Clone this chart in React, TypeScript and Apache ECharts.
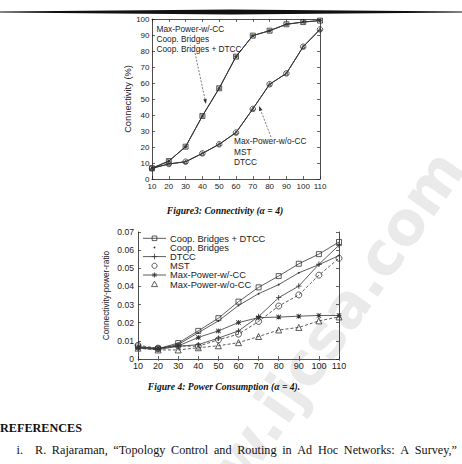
import React, { useEffect, useRef } from "react";
import * as echarts from "echarts";

// ---------- data ----------
const nodeCounts = [10, 20, 30, 40, 50, 60, 70, 80, 90, 100, 110];

// Figure 3: Connectivity (%)
const connWithCC = [6.7, 11.2, 20.2, 39.4, 56.7, 76.5, 89.6, 92.7, 96.7, 98.1, 99.0];
const connWithoutCC = [6.7, 9.4, 10.8, 16.0, 21.7, 29.0, 43.8, 59.2, 66.0, 82.7, 93.5];

// Figure 4: Connectivity-power-ratio
const ratioCoopDTCC = [0.0069, 0.0057, 0.0088, 0.0155, 0.0225, 0.0316, 0.0395, 0.0457, 0.0525, 0.0578, 0.0645];
const ratioCoop = [0.0065, 0.0055, 0.0080, 0.0145, 0.0210, 0.0295, 0.0360, 0.0410, 0.0475, 0.0520, 0.0570];
const ratioDTCC = [0.0060, 0.0052, 0.0070, 0.0079, 0.0115, 0.0155, 0.0234, 0.0338, 0.0402, 0.0522, 0.0627];
const ratioMST = [0.0075, 0.0060, 0.0072, 0.0070, 0.0106, 0.0137, 0.0207, 0.0292, 0.0353, 0.0462, 0.0555];
const ratioMaxWithCC = [0.0062, 0.0060, 0.0072, 0.0119, 0.0155, 0.0201, 0.0228, 0.0231, 0.0236, 0.0240, 0.0240];
const ratioMaxWithoutCC = [0.0060, 0.0050, 0.0050, 0.0062, 0.0073, 0.0090, 0.0124, 0.0160, 0.0174, 0.0210, 0.0232];

const legendNames = [
  "Coop. Bridges + DTCC",
  "Coop. Bridges",
  "DTCC",
  "MST",
  "Max-Power-w/-CC",
  "Max-Power-w/o-CC",
];

const annotationWithCC = ["Max-Power-w/-CC", "Coop. Bridges", "Coop. Bridges + DTCC"];
const annotationWithoutCC = ["Max-Power-w/o-CC", "MST", "DTCC"];

const referenceWords = [
  "R.",
  "Rajaraman,",
  "\u201CTopology",
  "Control",
  "and",
  "Routing",
  "in",
  "Ad",
  "Hoc",
  "Networks:",
  "A",
  "Survey,\u201D",
];

// ---------- styles ----------
const SANS = "'Liberation Sans', Arial, sans-serif";
const SERIF = "'Liberation Serif', 'Times New Roman', serif";
const INK = "#222";
const LINE = "#333";

const PLUS = "path://M4.2,0H5.8V10H4.2Z M0,4.2H10V5.8H0Z";
const STAR =
  "path://M4.2,0H5.8V10H4.2Z M0,4.2H10V5.8H0Z M1.1,0L10,8.9L8.9,10L0,1.1Z M8.9,0L10,1.1L1.1,10L0,8.9Z";

const pairs = (arr: number[]) => nodeCounts.map((x, i) => [x, arr[i]]);

function arrow(x1: number, y1: number, x2: number, y2: number) {
  const dx = x2 - x1;
  const dy = y2 - y1;
  const len = Math.sqrt(dx * dx + dy * dy);
  const ux = dx / len;
  const uy = dy / len;
  const bx = x2 - ux * 5;
  const by = y2 - uy * 5;
  const px = -uy * 1.8;
  const py = ux * 1.8;
  return [
    {
      type: "line",
      shape: { x1, y1, x2: bx, y2: by },
      style: { stroke: "#444", lineWidth: 0.7, lineDash: [2, 1.5] },
    },
    {
      type: "polygon",
      shape: { points: [[x2, y2], [bx + px, by + py], [bx - px, by - py]] },
      style: { fill: "#333" },
    },
  ];
}

function textEl(text: string, x: number, y: number, opts: any = {}) {
  const align = opts.align || "left";
  return {
    type: "text",
    x,
    y,
    rotation: opts.rotation || 0,
    z: opts.z ?? 10,
    style: {
      text,
      fill: opts.fill || INK,
      fontSize: opts.fontSize || 8.3,
      fontFamily: opts.fontFamily || SANS,
      fontWeight: opts.fontWeight || "normal",
      fontStyle: opts.fontStyle || "normal",
      align,
      textAlign: align,
      verticalAlign: "middle",
      textVerticalAlign: "middle",
    },
  };
}

function marker(kind: string, cx: number, cy: number): any[] {
  const stroke = { stroke: LINE, lineWidth: 0.8, fill: "none" };
  const seg = (x1: number, y1: number, x2: number, y2: number) => ({
    type: "line",
    z: 10,
    shape: { x1, y1, x2, y2 },
    style: { stroke: LINE, lineWidth: 0.8 },
  });
  switch (kind) {
    case "rect":
      return [{ type: "rect", z: 10, shape: { x: cx - 2.3, y: cy - 2.3, width: 4.6, height: 4.6 }, style: stroke }];
    case "dot":
      return [{ type: "circle", z: 10, shape: { cx, cy, r: 0.9 }, style: { fill: LINE } }];
    case "plus":
      return [seg(cx - 2.8, cy, cx + 2.8, cy), seg(cx, cy - 2.8, cx, cy + 2.8)];
    case "circle":
      return [{ type: "circle", z: 10, shape: { cx, cy, r: 2.6 }, style: stroke }];
    case "star":
      return [
        seg(cx - 2.6, cy, cx + 2.6, cy),
        seg(cx, cy - 2.6, cx, cy + 2.6),
        seg(cx - 1.9, cy - 1.9, cx + 1.9, cy + 1.9),
        seg(cx - 1.9, cy + 1.9, cx + 1.9, cy - 1.9),
      ];
    case "triangle":
      return [
        {
          type: "polygon",
          z: 10,
          shape: { points: [[cx, cy - 3], [cx + 3, cy + 2.4], [cx - 3, cy + 2.4]] },
          style: stroke,
        },
      ];
  }
  return [];
}

function valueAxisBase(gridIndex: number, min: number, max: number, interval: number) {
  return {
    type: "value",
    gridIndex,
    min,
    max,
    interval,
    splitLine: { show: false },
    axisLine: { show: true, onZero: false, lineStyle: { color: INK, width: 0.8 } },
    axisTick: { show: true, inside: true, length: 3, lineStyle: { color: INK, width: 0.7 } },
  };
}

function justifiedWords(words: string[], x0: number, x1: number, y: number, font: string, size: number) {
  const canvas = document.createElement("canvas");
  const ctx = canvas.getContext("2d");
  let widths = words.map((w) => w.length * size * 0.45);
  if (ctx) {
    ctx.font = `${size}px ${font}`;
    widths = words.map((w) => ctx.measureText(w).width);
  }
  const total = widths.reduce((a, b) => a + b, 0);
  const gap = (x1 - x0 - total) / (words.length - 1);
  const out: any[] = [];
  let x = x0;
  words.forEach((w, i) => {
    out.push(textEl(w, x, y, { fontSize: size, fontFamily: font, fill: "#111" }));
    x += widths[i] + gap;
  });
  return out;
}

export default function App() {
  const ref = useRef<HTMLDivElement>(null);

  useEffect(() => {
    if (!ref.current) return;
    const chart = echarts.init(ref.current, null, { renderer: "svg" });

    const tickLabel = (size: number, margin: number, show = true) => ({
      show,
      fontSize: size,
      fontFamily: SANS,
      color: INK,
      margin,
    });

    const xAxis = [
      { ...valueAxisBase(0, 10, 110, 10), position: "bottom", axisLabel: tickLabel(8, 3) },
      { ...valueAxisBase(0, 10, 110, 10), position: "top", axisLabel: { show: false } },
      { ...valueAxisBase(1, 10, 110, 10), position: "bottom", axisLabel: tickLabel(9, 2) },
      {
        ...valueAxisBase(1, 10, 110, 10),
        position: "top",
        axisLine: { show: false },
        axisTick: { show: true, inside: true, length: 2, lineStyle: { color: "#555", width: 0.8 } },
        axisLabel: { show: false },
      },
    ];

    const yAxis = [
      {
        ...valueAxisBase(0, 0, 100, 10),
        position: "left",
        axisLabel: tickLabel(8, 2.5),
        name: "Connectivity (%)",
        nameLocation: "middle",
        nameRotate: 90,
        nameGap: 18,
        nameTextStyle: { fontSize: 9.3, fontFamily: SANS, color: INK },
      },
      { ...valueAxisBase(0, 0, 100, 10), position: "right", axisLabel: { show: false } },
      {
        ...valueAxisBase(1, 0, 0.07, 0.01),
        position: "left",
        axisLabel: {
          ...tickLabel(8.6, 4),
          formatter: (v: number) => (v === 0 ? "0" : v.toFixed(2)),
        },
        name: "Connectivity-power-ratio",
        nameLocation: "middle",
        nameRotate: 90,
        nameGap: 28,
        nameTextStyle: { fontSize: 8.3, fontFamily: SANS, color: INK },
      },
      { ...valueAxisBase(1, 0, 0.07, 0.01), position: "right", axisLabel: { show: false } },
    ];

    const lineSeries = (
      name: string,
      data: number[],
      axis: number,
      symbol: string,
      symbolSize: number,
      filled: boolean,
      dashed: boolean,
      width = 0.8
    ) => ({
      type: "line",
      name,
      data: pairs(data),
      xAxisIndex: axis,
      yAxisIndex: axis,
      symbol,
      symbolSize,
      showSymbol: true,
      silent: true,
      lineStyle: { color: LINE, width, type: dashed ? [3, 2] : "solid" },
      itemStyle: filled
        ? { color: LINE, borderWidth: 0 }
        : { color: "transparent", borderColor: LINE, borderWidth: 0.8 },
      z: 3,
    });

    const series = [
      // Figure 4
      lineSeries(legendNames[0], ratioCoopDTCC, 2, "rect", 5, false, false),
      lineSeries(legendNames[1], ratioCoop, 2, "circle", 1.8, true, false),
      lineSeries(legendNames[2], ratioDTCC, 2, PLUS, 5.5, true, false),
      lineSeries(legendNames[3], ratioMST, 2, "circle", 6, false, true),
      lineSeries(legendNames[4], ratioMaxWithCC, 2, STAR, 5, true, false),
      lineSeries(legendNames[5], ratioMaxWithoutCC, 2, "triangle", 6, false, true),
      // Figure 3
      lineSeries("Fig3 " + annotationWithCC[2], connWithCC, 0, "rect", 5, false, false, 1),
      lineSeries("Fig3 " + annotationWithCC[0], connWithCC, 0, STAR, 4, true, false, 1),
      lineSeries("Fig3 " + annotationWithoutCC[1], connWithoutCC, 0, "circle", 5.5, false, false, 1),
      lineSeries("Fig3 " + annotationWithoutCC[0], connWithoutCC, 0, "triangle", 3.5, false, false, 1),
    ];

    // legend drawn inside Figure 4 (matlab style)
    const legendMarkers = ["rect", "dot", "plus", "circle", "star", "triangle"];
    const legendHasLine = [true, false, true, false, true, false];
    const legendRowY = [238.3, 247.5, 256.6, 265.8, 275, 284.2];
    const legendEls: any[] = [];
    legendNames.forEach((name, i) => {
      const y = legendRowY[i];
      if (legendHasLine[i]) {
        legendEls.push({
          type: "line",
          z: 10,
          shape: { x1: 143, y1: y, x2: 166, y2: y },
          style: { stroke: LINE, lineWidth: 0.8 },
        });
      }
      legendEls.push(...marker(legendMarkers[i], 154.5, y));
      legendEls.push(textEl(name, 170, y + 0.3, { fontSize: 9.3 }));
    });

    const elements: any[] = [
      // watermark
      textEl("www.ijcsa.com", 450, 157, {
        rotation: 0.96,
        align: "right",
        fontSize: 60,
        fontWeight: "bold",
        fontFamily: "'DejaVu Sans', sans-serif",
        fill: "#eaeaea",
        z: -10,
      }),
      // top rule
      {
        type: "polygon",
        z: 10,
        shape: {
          points: [
            [0, 11.6],
            [231, 9.6],
            [462, 11.6],
            [462, 12.6],
            [231, 14.4],
            [0, 12.6],
          ],
        },
        style: { fill: "#111" },
      },
      ...annotationWithCC.map((t, i) => textEl(t, 156.5, 29 + i * 10.2)),
      ...annotationWithoutCC.map((t, i) => textEl(t, 234, 141 + i * 10.5)),
      ...arrow(195, 53, 206, 104),
      ...arrow(271, 137, 259, 106),
      ...legendEls,
      textEl("Figure3: Connectivity (α = 4)", 225, 210, {
        align: "center",
        fontSize: 9.6,
        fontFamily: SERIF,
        fontWeight: "bold",
        fontStyle: "italic",
        fill: "#111",
      }),
      textEl("Figure 4: Power Consumption (α = 4).", 224, 386.5, {
        align: "center",
        fontSize: 9.6,
        fontFamily: SERIF,
        fontWeight: "bold",
        fontStyle: "italic",
        fill: "#111",
      }),
      textEl("REFERENCES", 0, 427.5, {
        fontSize: 12.2,
        fontFamily: SERIF,
        fontWeight: "bold",
        fill: "#111",
      }),
      textEl("i.", 16.5, 449.5, { fontSize: 12.2, fontFamily: SERIF, fill: "#111" }),
      ...justifiedWords(referenceWords, 35, 457, 449.5, SERIF, 12.2),
    ];

    chart.setOption({
      animation: false,
      backgroundColor: "#fff",
      textStyle: { fontFamily: SANS },
      grid: [
        { left: 152, top: 19, width: 168, height: 160, containLabel: false },
        { left: 138, top: 232, width: 201, height: 127, containLabel: false },
      ],
      xAxis,
      yAxis,
      series,
      graphic: { elements },
    });

    return () => chart.dispose();
  }, []);

  return (
    <div
      ref={ref}
      style={{ position: "absolute", left: 0, top: 0, width: 462, height: 464, background: "#fff" }}
    />
  );
}
